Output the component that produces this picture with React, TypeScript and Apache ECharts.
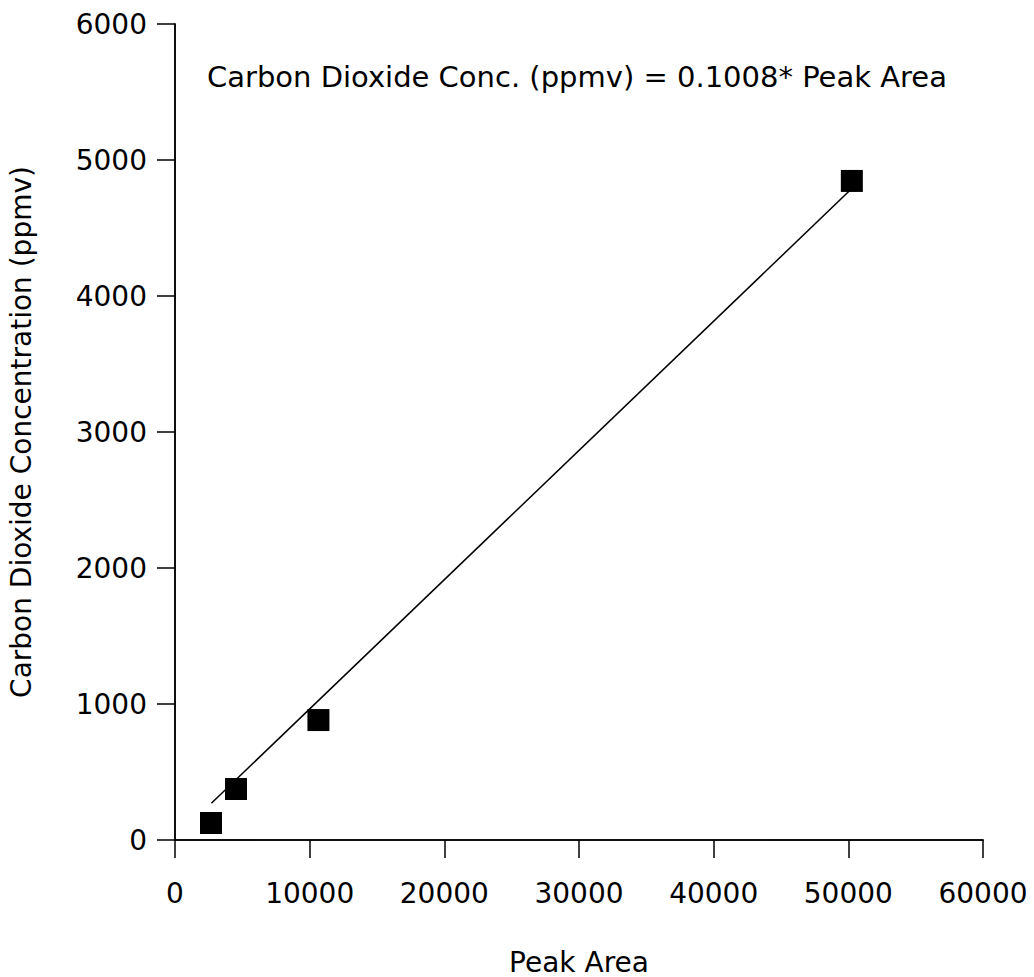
import React, { useEffect, useRef } from "react";
import * as echarts from "echarts";

const peakArea = [2672, 4528, 10650, 50260];
const concentration = [125, 375, 882, 4846];
const fitLine = [
  [2700, 270],
  [50260, 4790],
];
const xTicks = [0, 10000, 20000, 30000, 40000, 50000, 60000];
const yTicks = [0, 1000, 2000, 3000, 4000, 5000, 6000];
const equation = "Carbon Dioxide Conc. (ppmv) = 0.1008* Peak Area";

const FONT = "DejaVu Sans";
const FS = 28;

export default function App() {
  const ref = useRef<HTMLDivElement>(null);
  useEffect(() => {
    const chart = echarts.init(ref.current!, null, { renderer: "svg" });
    const axisCommon = {
      axisLine: { show: true, lineStyle: { color: "#000", width: 1.5 } },
      splitLine: { show: false },
    };
    chart.setOption({
      animation: false,
      backgroundColor: "#fff",
      grid: { left: 175, right: 51, top: 24, bottom: 137, containLabel: false, outerBoundsMode: "none" },
      xAxis: [
        {
          type: "value",
          min: xTicks[0],
          max: xTicks[xTicks.length - 1],
          interval: 10000,
          name: "Peak Area",
          nameLocation: "middle",
          nameGap: 108,
          nameTextStyle: { fontFamily: FONT, fontSize: FS, color: "#000" },
          ...axisCommon,
          axisTick: { show: true, length: 18, lineStyle: { color: "#000", width: 1.5 } },
          axisLabel: { margin: 39, fontFamily: FONT, fontSize: FS, color: "#000", formatter: (v: number) => String(v) },
        },
        {
          type: "value",
          position: "top",
          min: 0,
          max: 60000,
          ...axisCommon,
          axisTick: { show: false },
          axisLabel: { show: false },
        },
      ],
      yAxis: [
        {
          type: "value",
          min: yTicks[0],
          max: yTicks[yTicks.length - 1],
          interval: 1000,
          name: "Carbon Dioxide Concentration (ppmv)",
          nameLocation: "middle",
          nameGap: 140,
          nameTextStyle: { fontFamily: FONT, fontSize: FS, color: "#000" },
          ...axisCommon,
          axisTick: { show: true, length: 18, lineStyle: { color: "#000", width: 1.5 } },
          axisLabel: { margin: 28, fontFamily: FONT, fontSize: FS, color: "#000", formatter: (v: number) => String(v) },
        },
        {
          type: "value",
          position: "right",
          min: 0,
          max: 6000,
          ...axisCommon,
          axisTick: { show: false },
          axisLabel: { show: false },
        },
      ],
      graphic: [
        {
          type: "text",
          left: 207,
          top: 62,
          style: { text: equation, fontFamily: FONT, fontSize: 29, fill: "#000" },
        },
      ],
      series: [
        {
          type: "line",
          data: fitLine,
          showSymbol: false,
          symbol: "none",
          lineStyle: { color: "#000", width: 1.5 },
          z: 2,
        },
        {
          type: "scatter",
          data: peakArea.map((x, i) => [x, concentration[i]]),
          symbol: "rect",
          symbolSize: 22,
          itemStyle: { color: "#000", opacity: 1 },
          z: 3,
        },
      ],
    });
    return () => chart.dispose();
  }, []);
  return <div ref={ref} style={{ width: 1034, height: 977, position: "absolute", left: 0, top: 0 }} />;
}
